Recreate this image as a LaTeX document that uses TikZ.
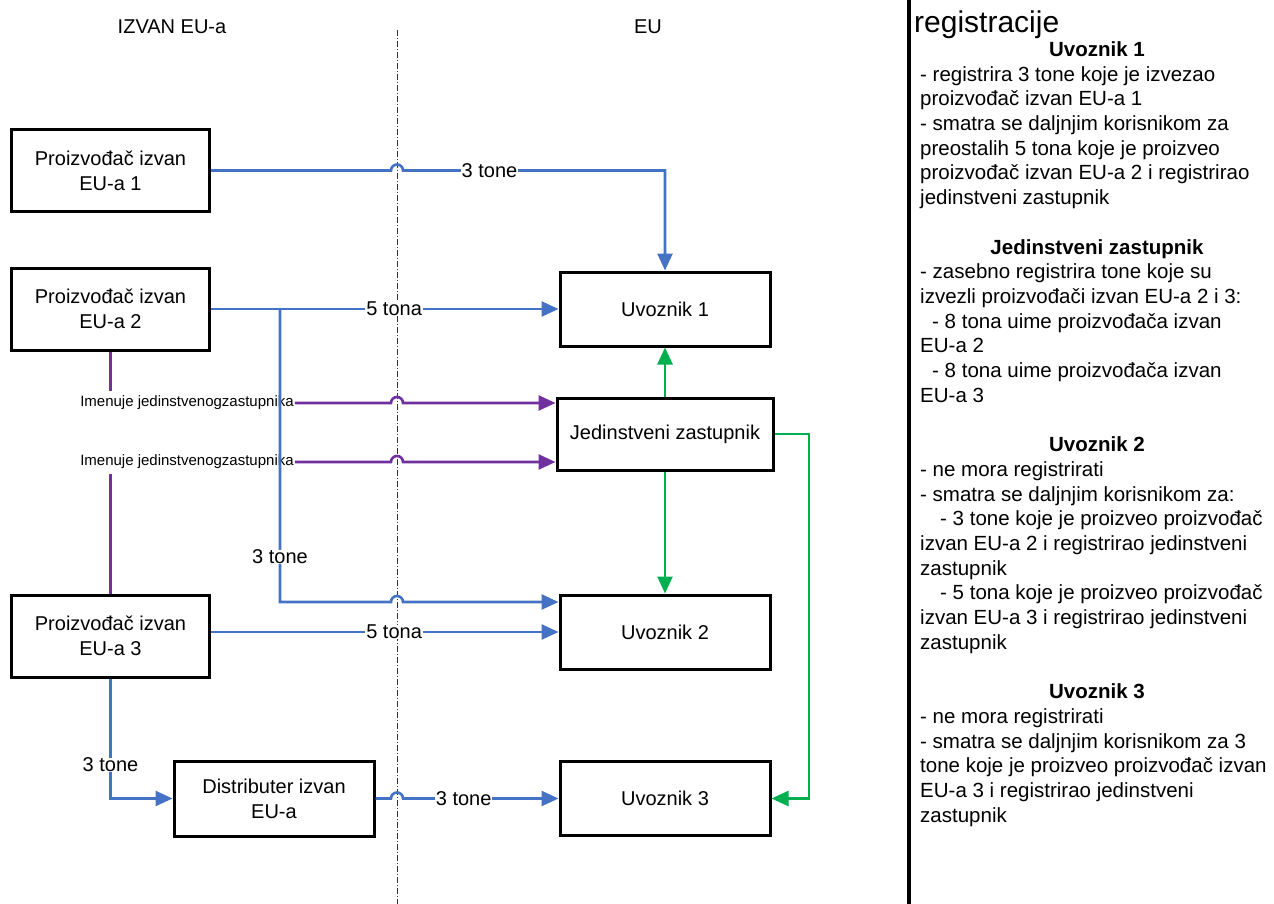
\documentclass[tikz,border=0pt]{standalone}
\usepackage{fontspec}
\setmainfont{Liberation Sans}
\usetikzlibrary{arrows.meta,calc}

\definecolor{flowblue}{RGB}{68,114,196}
\definecolor{flowgreen}{RGB}{0,176,80}
\definecolor{flowpurple}{RGB}{112,48,160}

\begin{document}
\begin{tikzpicture}[x=1pt,y=-1pt,
  every node/.style={font=\fontsize{20}{25}\selectfont},
  box/.style={draw=black,line width=3pt,inner sep=0pt,align=center},
  pbox/.style={box,minimum width=198pt,minimum height=82pt},
  ebox/.style={box,minimum width=210pt,minimum height=74pt},
  flow/.style={line width=2.6pt,-{Triangle[length=17pt,width=15pt]}},
  bflow/.style={flow,color=flowblue},
  gflow/.style={flow,color=flowgreen},
  pflow/.style={flow,color=flowpurple},
  plink/.style={line width=2.6pt,color=flowpurple},
  lbl/.style={fill=white,text=black,inner xsep=1pt,inner ysep=0pt},
  named/.style={font=\fontsize{15}{18}\selectfont,inner xsep=1pt,inner ysep=5pt},
  divider/.style={line width=0.8pt,color=black!80,dash pattern=on 6pt off 2pt on 1pt off 2pt},
  head/.style={font=\fontsize{20.5}{24.7}\selectfont\bfseries,anchor=base,inner sep=0pt},
  body/.style={font=\fontsize{20.5}{24.7}\selectfont,anchor=base west,align=left,inner sep=0pt},
]
\useasboundingbox (0,0) rectangle (1274,904);

% helper coordinates
\coordinate (dd) at (397,0);
\coordinate (ddtop) at (397,30);
\coordinate (ddbot) at (397,904);
\coordinate (br) at (280,0);
\coordinate (gx) at (809,0);
\coordinate (bartop) at (909,0);
\coordinate (barbot) at (909,904);

% region headings and the border between them
\node (hout) at (172,27) {IZVAN EU-a};
\node (hin) at (648,27) {EU};
\draw[divider] (ddtop) -- (ddbot);

% actors
\node[pbox] (p1) at (110.5,170.5) {Proizvođač izvan\\EU-a 1};
\node[pbox] (p2) at (110.5,309) {Proizvođač izvan\\EU-a 2};
\node[pbox] (p3) at (110.5,636) {Proizvođač izvan\\EU-a 3};
\node[box,minimum width=200pt,minimum height=75pt] (dist) at (274,798.5) {Distributer izvan\\EU-a};
\node[ebox] (u1) at (665,309) {Uvoznik 1};
\node[box,minimum width=216pt,minimum height=72pt] (jz) at (665,434) {Jedinstveni zastupnik};
\node[ebox] (u2) at (665,632) {Uvoznik 2};
\node[ebox] (u3) at (665,798.5) {Uvoznik 3};
\coordinate (u2a) at ($(u2.west)+(0,-30)$);

% appointments of the only representative
\node[named] (n1) at (187,403) {Imenuje jedinstvenogzastupnika};
\node[named] (n2) at (187,462) {Imenuje jedinstvenogzastupnika};
\draw[plink] (p2.south) -- (p2.south |- n1.north);
\draw[pflow] (n1.east) -- ($(n1.east -| dd)+(-6,0)$) arc[start angle=180,end angle=0,radius=6pt] -- (n1.east -| jz.west);
\draw[plink] (p3.north) -- (p3.north |- n2.south);
\draw[pflow] (n2.east) -- ($(n2.east -| dd)+(-6,0)$) arc[start angle=180,end angle=0,radius=6pt] -- (n2.east -| jz.west);

% deliveries
\draw[bflow] (p1.east) -- ($(p1.east -| dd)+(-6,0)$) arc[start angle=180,end angle=0,radius=6pt]
  -- node[lbl,pos=0.33]{3 tone} (p1.east -| u1.north) -- (u1.north);
\draw[bflow] (p2.east) -- node[lbl,pos=0.527]{5 tona} (u1.west);
\draw[bflow] (p2.east -| br) -- node[lbl,pos=0.846]{3 tone} (br |- u2a)
  -- ($(u2a -| dd)+(-6,0)$) arc[start angle=180,end angle=0,radius=6pt] -- (u2a);
\draw[bflow] (p3.east |- u2.west) -- node[lbl,pos=0.527]{5 tona} (u2.west);
\draw[bflow] (p3.south) -- node[lbl,pos=0.72]{3 tone} (p3.south |- dist.west) -- (dist.west);
\draw[bflow] (dist.east) -- ($(dist.east -| dd)+(-6,0)$) arc[start angle=180,end angle=0,radius=6pt]
  -- node[lbl,pos=0.39]{3 tone} (u3.west);

% registrations handed on by the only representative
\draw[gflow] (jz.north) -- (u1.south);
\draw[gflow] (jz.south) -- (u2.north);
\draw[gflow] (jz.east) -- (jz.east -| gx) -- (gx |- u3.east) -- (u3.east);

% side panel (each text block is placed by the baseline of its last line)
\draw[line width=3.5pt] (bartop) -- (barbot);
\node[anchor=base west,font=\fontsize{30}{36}\selectfont,inner sep=0pt] (ttl) at (914,33) {registracije};

\node[head] (h1) at (1097,56.5) {Uvoznik 1};
\node[body] (t1) at (920,204.7) {- registrira 3 tone koje je izvezao\\
proizvođač izvan EU-a 1\\
- smatra se daljnjim korisnikom za\\
preostalih 5 tona koje je proizveo\\
proizvođač izvan EU-a 2 i registrirao\\
jedinstveni zastupnik};

\node[head] (h2) at (1097,254.1) {Jedinstveni zastupnik};
\node[body] (t2) at (920,402.3) {- zasebno registrira tone koje su\\
izvezli proizvođači izvan EU-a 2 i 3:\\
\hspace*{12pt}- 8 tona uime proizvođača izvan\\
EU-a 2\\
\hspace*{12pt}- 8 tona uime proizvođača izvan\\
EU-a 3};

\node[head] (h3) at (1097,451.7) {Uvoznik 2};
\node[body] (t3) at (920,649.3) {- ne mora registrirati\\
- smatra se daljnjim korisnikom za:\\
\hspace*{20pt}- 3 tone koje je proizveo proizvođač\\
izvan EU-a 2 i registrirao jedinstveni\\
zastupnik\\
\hspace*{20pt}- 5 tona koje je proizveo proizvođač\\
izvan EU-a 3 i registrirao jedinstveni\\
zastupnik};

\node[head] (h4) at (1097,698.7) {Uvoznik 3};
\node[body] (t4) at (920,822.2) {- ne mora registrirati\\
- smatra se daljnjim korisnikom za 3\\
tone koje je proizveo proizvođač izvan\\
EU-a 3 i registrirao jedinstveni\\
zastupnik};
\end{tikzpicture}
\end{document}
